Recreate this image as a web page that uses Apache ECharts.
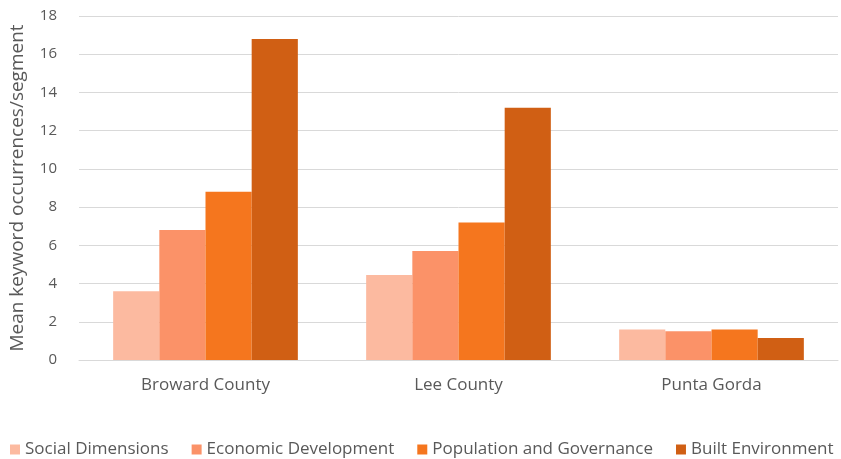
<!DOCTYPE html>
<html><head><meta charset="utf-8">
<script src="https://cdn.jsdelivr.net/npm/echarts@6/dist/echarts.min.js"></script>
<style>html,body{margin:0;padding:0;background:#fff}#c{width:841px;height:459px}</style>
</head><body><div id="c"></div>
<script>
const categories = ['Broward County', 'Lee County', 'Punta Gorda'];
const seriesNames = ['Social Dimensions', 'Economic Development', 'Population and Governance', 'Built Environment'];
const socialDimensions = [3.6, 4.45, 1.6];
const economicDevelopment = [6.8, 5.7, 1.5];
const populationGovernance = [8.8, 7.2, 1.6];
const builtEnvironment = [16.8, 13.2, 1.15];
const colors = ['#fcbaa0', '#fb9268', '#f5761e', '#d05f14'];
const values = [socialDimensions, economicDevelopment, populationGovernance, builtEnvironment];
const font = 'Open Sans';
const chart = echarts.init(document.getElementById('c'));
chart.setOption({
  animation: false,
  grid: {left: 77, right: 3, top: 16, bottom: 99},
  legend: {
    top: 436, left: 10, width: 831, padding: [5, 0, 5, 0],
    itemWidth: 10, itemHeight: 10, itemGap: 23,
    icon: 'rect',
    textStyle: {color: '#595959', fontSize: 17, fontFamily: font},
    data: seriesNames
  },
  xAxis: {
    type: 'category', data: categories,
    axisLine: {lineStyle: {color: '#d9d9d9'}},
    axisTick: {show: false},
    axisLabel: {color: '#595959', fontSize: 17, fontFamily: font, margin: 17}
  },
  yAxis: {
    type: 'value', min: 0, max: 18, interval: 2,
    name: 'Mean keyword occurrences/segment', nameLocation: 'middle', nameGap: 52,
    nameTextStyle: {color: '#595959', fontSize: 19, fontFamily: font},
    axisLine: {show: false}, axisTick: {show: false},
    axisLabel: {color: '#595959', fontSize: 15, fontFamily: font, margin: 22},
    splitLine: {lineStyle: {color: '#d9d9d9'}}
  },
  series: seriesNames.map((n, i) => ({
    name: n, type: 'bar', data: values[i],
    itemStyle: {color: colors[i]},
    barGap: '0%', barCategoryGap: '27%'
  }))
});
</script></body></html>
